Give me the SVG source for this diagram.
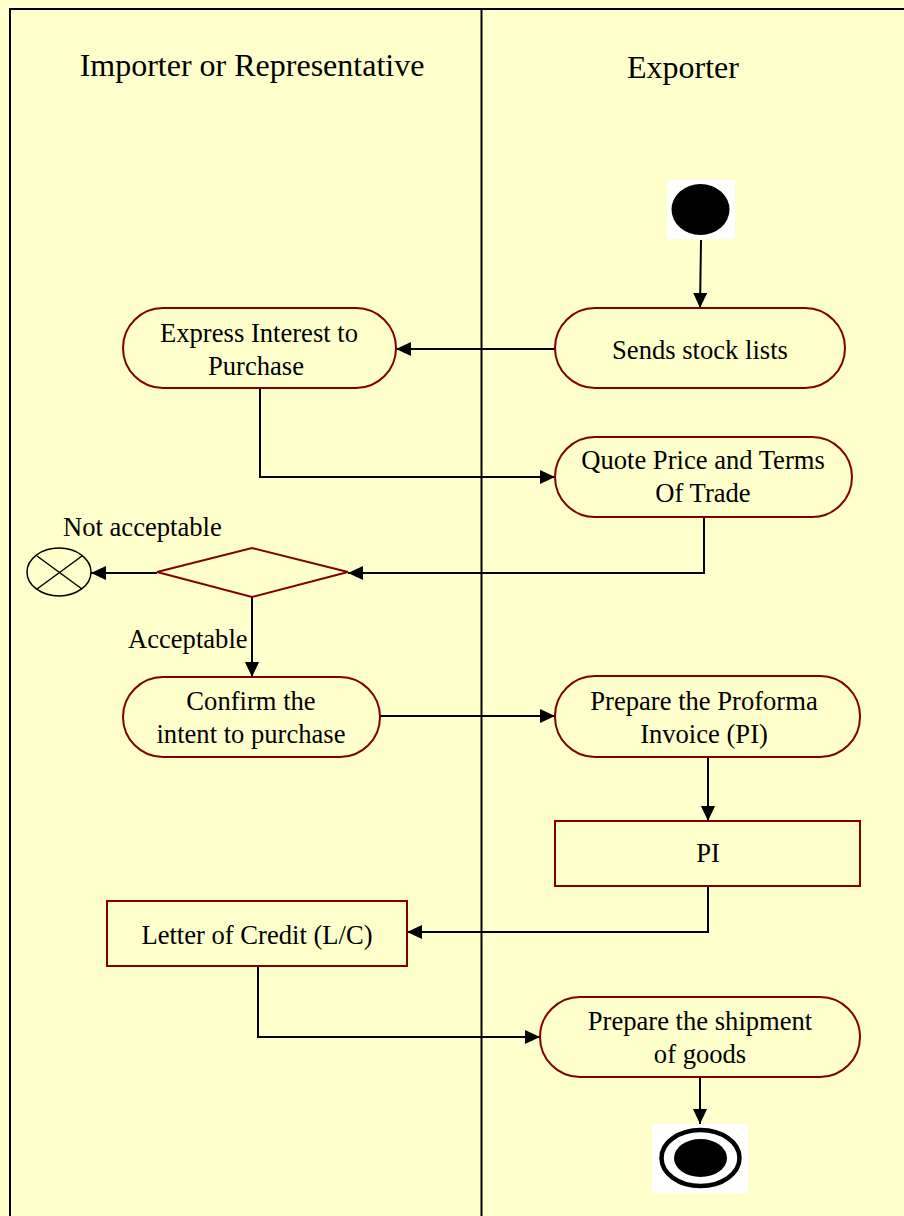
<svg xmlns="http://www.w3.org/2000/svg" width="904" height="1216" viewBox="0 0 904 1216">
<style>
.lane{fill:none;stroke:#000;stroke-width:2}
.act{fill:#FFFFCC;stroke:#800000;stroke-width:2}
.t{font-family:"Liberation Serif","Times New Roman",serif;font-size:26.6px;fill:#000;text-anchor:middle}
.h{font-family:"Liberation Serif","Times New Roman",serif;font-size:32px;fill:#000;text-anchor:middle}
.lbl{font-family:"Liberation Serif","Times New Roman",serif;font-size:26.6px;fill:#000}
.c{fill:none;stroke:#000;stroke-width:2}
</style>
<defs>
<marker id="ah" markerUnits="userSpaceOnUse" markerWidth="16" markerHeight="14" refX="15" refY="7" orient="auto">
<path d="M0,0 L15,7 L0,14 Z" fill="#000"/>
</marker>
</defs>
<rect x="0" y="0" width="904" height="1216" fill="#FFFFCC"/>
<g id="lanes">
<path class="lane" d="M10,1216 L10,9 L904,9"/>
<line class="lane" x1="481.5" y1="9" x2="481.5" y2="1216"/>
<text class="h" x="252" y="76">Importer or Representative</text>
<text class="h" x="683" y="78">Exporter</text>
</g>
<g id="connectors">
<line class="c" x1="701" y1="240" x2="700" y2="308" marker-end="url(#ah)"/>
<line class="c" x1="555" y1="349" x2="396" y2="349" marker-end="url(#ah)"/>
<polyline class="c" points="260,388 260,477 555,477" marker-end="url(#ah)"/>
<polyline class="c" points="704,517 704,573 348,573" marker-end="url(#ah)"/>
<line class="c" x1="157" y1="573" x2="91" y2="573" marker-end="url(#ah)"/>
<line class="c" x1="252" y1="597" x2="252" y2="677" marker-end="url(#ah)"/>
<line class="c" x1="380" y1="716" x2="555" y2="716" marker-end="url(#ah)"/>
<line class="c" x1="708" y1="757" x2="708" y2="821" marker-end="url(#ah)"/>
<polyline class="c" points="708,886 708,932 407,932" marker-end="url(#ah)"/>
<polyline class="c" points="258,966 258,1037 540,1037" marker-end="url(#ah)"/>
<line class="c" x1="700" y1="1077" x2="700" y2="1124" marker-end="url(#ah)"/>
<text class="lbl" x="63" y="536">Not acceptable</text>
<text class="lbl" x="128" y="648">Acceptable</text>
</g>
<g id="start">
<rect x="667" y="180" width="68" height="59" fill="#fff"/>
<ellipse cx="700.5" cy="209.5" rx="29" ry="25.5" fill="#000"/>
</g>
<g id="sends">
<rect class="act" x="555" y="308" width="290" height="80" rx="40"/>
<text class="t" x="700" y="359">Sends stock lists</text>
</g>
<g id="express">
<rect class="act" x="123" y="308" width="273" height="80" rx="40"/>
<text class="t" x="259" y="342">Express Interest to</text>
<text class="t" x="256" y="375">Purchase</text>
</g>
<g id="quote">
<rect class="act" x="555" y="437" width="297" height="80" rx="40"/>
<text class="t" x="703" y="469">Quote Price and Terms</text>
<text class="t" x="703" y="502">Of Trade</text>
</g>
<g id="decision">
<polygon points="157,572 252,548 348,572 252,597" fill="#FFFFCC" stroke="#800000" stroke-width="2"/>
</g>
<g id="flowfinal">
<ellipse cx="59" cy="572" rx="32" ry="24" fill="#FFFFCC" stroke="#000" stroke-width="1.5"/>
<line x1="37" y1="556" x2="82" y2="589" stroke="#000" stroke-width="1.5"/>
<line x1="82" y1="556" x2="37" y2="589" stroke="#000" stroke-width="1.5"/>
</g>
<g id="confirm">
<rect class="act" x="123" y="677" width="257" height="80" rx="40"/>
<text class="t" x="251" y="710">Confirm the</text>
<text class="t" x="251" y="743">intent to purchase</text>
</g>
<g id="preparepi">
<rect class="act" x="555" y="676" width="305" height="81" rx="40"/>
<text class="t" x="704" y="710">Prepare the Proforma</text>
<text class="t" x="704" y="743">Invoice (PI)</text>
</g>
<g id="pi">
<rect class="act" x="555" y="821" width="305" height="65"/>
<text class="t" x="708" y="862">PI</text>
</g>
<g id="lc">
<rect class="act" x="107" y="901" width="300" height="65"/>
<text class="t" x="257" y="944">Letter of Credit (L/C)</text>
</g>
<g id="shipment">
<rect class="act" x="540" y="997" width="320" height="80" rx="40"/>
<text class="t" x="700" y="1030">Prepare the shipment</text>
<text class="t" x="700" y="1063">of goods</text>
</g>
<g id="end">
<rect x="652" y="1124" width="96" height="69" fill="#fff"/>
<ellipse cx="700.5" cy="1158" rx="39" ry="28" fill="none" stroke="#000" stroke-width="4.5"/>
<ellipse cx="700.5" cy="1158" rx="26.5" ry="19" fill="#000"/>
</g>
</svg>
